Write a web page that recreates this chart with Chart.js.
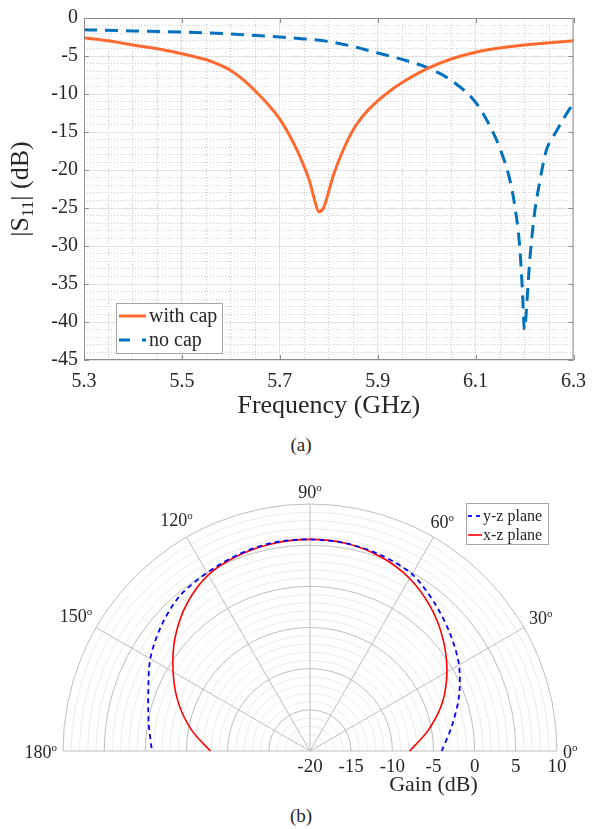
<!DOCTYPE html>
<html>
<head>
<meta charset="utf-8">
<script src="https://cdn.jsdelivr.net/npm/chart.js@4.4.0/dist/chart.umd.min.js"></script>
<style>
  html, body { margin: 0; padding: 0; background: #fff; }
  body { width: 596px; height: 829px; position: relative; overflow: hidden;
         font-family: 'Liberation Serif', 'Times New Roman', serif; color: #262626; }
  canvas { position: absolute; left: 0; }
  #s11Chart { top: 0; }
  #gainChart { top: 460px; }
  .caption { position: absolute; width: 60px; text-align: center; font-size: 19px; line-height: 20px; }
</style>
</head>
<body>
<canvas id="s11Chart" width="596" height="425"></canvas>
<div class="caption" style="left:271px; top:435px;">(a)</div>
<canvas id="gainChart" width="596" height="340"></canvas>
<div class="caption" style="left:271px; top:806px;">(b)</div>
<script>
// (a) reflection coefficient
const freqWithCap = [5.30, 5.35, 5.40, 5.45, 5.50, 5.55, 5.575, 5.60, 5.625, 5.65, 5.675, 5.70, 5.73, 5.75, 5.76, 5.77, 5.78, 5.79, 5.80, 5.81, 5.83, 5.85, 5.875, 5.90, 5.925, 5.95, 6.00, 6.05, 6.10, 6.15, 6.20, 6.25, 6.30];
const s11WithCap  = [-2.6, -3.0, -3.55, -4.05, -4.7, -5.5, -6.1, -6.9, -8.1, -9.6, -11.3, -13.3, -16.7, -19.6, -21.3, -23.7, -25.5, -24.9, -22.8, -20.6, -17.3, -14.7, -12.5, -10.9, -9.6, -8.5, -6.7, -5.4, -4.5, -3.95, -3.55, -3.25, -3.0];
const freqNoCap = [5.30, 5.40, 5.50, 5.60, 5.70, 5.75, 5.80, 5.85, 5.90, 5.95, 6.00, 6.05, 6.10, 6.13, 6.15, 6.17, 6.18, 6.19, 6.195, 6.20, 6.205, 6.21, 6.22, 6.23, 6.245, 6.255, 6.265, 6.28, 6.30];
const s11NoCap  = [-1.55, -1.7, -1.85, -2.1, -2.5, -2.75, -3.1, -3.75, -4.6, -5.45, -6.5, -8.2, -11.1, -14.3, -17.2, -21.3, -24.7, -30.0, -35.1, -41.0, -37.2, -32.4, -25.9, -21.9, -17.3, -16.0, -14.9, -13.2, -11.2];
const freqTicks = [5.3, 6.3];   // axis range (GHz)
const s11Range = [-45, 0];      // axis range (dB)

// (b) radiation pattern, gain in dB versus angle
const angleDeg = [0, 10, 20, 30, 40, 50, 60, 70, 80, 90, 100, 110, 120, 130, 140, 150, 160, 170, 180];
const gainYZ = [-4.0, -2.5, -0.75, 0.9, 2.2, 3.5, 4.8, 5.3, 5.6, 5.7, 5.7, 5.4, 5.0, 4.6, 3.6, 2.4, 0.9, -0.1, -0.8];
const gainXZ = [-7.9, -5.4, -2.9, -0.8, 1.1, 2.8, 4.2, 5.1, 5.6, 5.7, 5.6, 5.3, 4.7, 3.3, 1.4, -0.8, -3.0, -5.4, -7.9];
const gainRange = [-20, 10];
const angleLabels = [0, 30, 60, 90, 120, 150, 180];

const serif = "'Liberation Serif', 'Times New Roman', serif";
const textColor = '#262626';
Chart.defaults.font.family = serif;
Chart.defaults.color = textColor;

// legend drawn inside a box, like matlab
const boxLegend = {
    id: 'boxLegend',
    afterDraw(chart, args, o) {
        const ctx = chart.ctx;
        ctx.save();
        ctx.fillStyle = '#fff';
        ctx.fillRect(o.left, o.top, o.width, o.height);
        ctx.strokeStyle = '#a6a6a6';
        ctx.lineWidth = 1;
        ctx.strokeRect(o.left + 0.5, o.top + 0.5, o.width, o.height);
        chart.data.datasets.forEach((ds, i) => {
            const y = o.rows[i];
            ctx.strokeStyle = ds.borderColor;
            ctx.lineWidth = ds.borderWidth;
            ctx.setLineDash(o.dash[i] || []);
            ctx.beginPath();
            ctx.moveTo(o.sample[0], y);
            ctx.lineTo(o.sample[1], y);
            ctx.stroke();
            ctx.setLineDash([]);
            ctx.fillStyle = textColor;
            ctx.font = o.fontSize + 'px ' + serif;
            ctx.textBaseline = 'middle';
            ctx.textAlign = 'left';
            ctx.fillText(ds.label, o.textX, y + 1);
        });
        ctx.restore();
    }
};

// box around the plot with inward ticks
const frameBox = {
    id: 'frameBox',
    afterDatasetsDraw(chart) {
        const {ctx, chartArea: a, scales} = chart;
        ctx.save();
        ctx.strokeStyle = '#8c8c8c';
        ctx.lineWidth = 1;
        ctx.strokeRect(a.left + 0.5, a.top + 0.5, a.right - a.left - 1, a.bottom - a.top - 1);
        ctx.beginPath();
        scales.x.ticks.forEach(t => {
            const px = Math.round(scales.x.getPixelForValue(t.value)) + 0.5;
            ctx.moveTo(px, a.bottom); ctx.lineTo(px, a.bottom - 5);
            ctx.moveTo(px, a.top); ctx.lineTo(px, a.top + 5);
        });
        scales.y.ticks.forEach(t => {
            const py = Math.round(scales.y.getPixelForValue(t.value)) + 0.5;
            ctx.moveTo(a.left, py); ctx.lineTo(a.left + 5, py);
            ctx.moveTo(a.right, py); ctx.lineTo(a.right - 5, py);
        });
        ctx.stroke();
        ctx.restore();
    }
};

// |S11| (dB) with a real subscript
const yTitle = {
    id: 'yTitle',
    afterDraw(chart) {
        const {ctx, chartArea: a} = chart;
        const parts = [
            {t: '|S', size: 26, dy: 0},
            {t: '11', size: 17, dy: 5},
            {t: '| (dB)', size: 26, dy: 0}
        ];
        ctx.save();
        ctx.translate(28, (a.top + a.bottom) / 2);
        ctx.rotate(-Math.PI / 2);
        ctx.fillStyle = textColor;
        ctx.textBaseline = 'alphabetic';
        let total = 0;
        parts.forEach(p => { ctx.font = p.size + 'px ' + serif; p.w = ctx.measureText(p.t).width; total += p.w; });
        let x = -total / 2;
        parts.forEach(p => {
            ctx.font = p.size + 'px ' + serif;
            ctx.fillText(p.t, x, p.dy);
            x += p.w;
        });
        ctx.restore();
    }
};

new Chart(document.getElementById('s11Chart'), {
    type: 'line',
    data: {
        datasets: [{
            label: 'with cap',
            data: freqWithCap.map((f, i) => ({x: f, y: s11WithCap[i]})),
            borderColor: '#ff6a30',
            borderWidth: 3,
            pointRadius: 0,
            cubicInterpolationMode: 'monotone',
            fill: false
        }, {
            label: 'no cap',
            data: freqNoCap.map((f, i) => ({x: f, y: s11NoCap[i]})),
            borderColor: '#0072bd',
            borderWidth: 3,
            borderDash: [13, 8],
            pointRadius: 0,
            cubicInterpolationMode: 'monotone',
            fill: false
        }]
    },
    options: {
        responsive: false,
        animation: false,
        layout: { padding: { left: 0, right: 17, top: 16, bottom: 0 } },
        plugins: {
            legend: { display: false },
            tooltip: { enabled: false },
            boxLegend: {
                left: 116, top: 303, width: 106, height: 50,
                rows: [316, 340], sample: [119, 146], textX: 149,
                dash: [[], [11, 12]], fontSize: 20
            }
        },
        scales: {
            xMinor: {
                type: 'linear', position: 'bottom', min: freqTicks[0], max: freqTicks[1],
                ticks: { display: false, stepSize: 0.05 },
                grid: { color: '#cdcdcd', drawTicks: false },
                border: { display: false, dash: [1, 2] },
                afterFit(s) { s.height = 0; }
            },
            yMinor: {
                type: 'linear', position: 'left', min: s11Range[0], max: s11Range[1],
                ticks: { display: false, stepSize: 1 },
                grid: { color: '#cdcdcd', drawTicks: false },
                border: { display: false, dash: [1, 2] },
                afterFit(s) { s.width = 0; }
            },
            x: {
                type: 'linear', position: 'bottom', min: freqTicks[0], max: freqTicks[1],
                ticks: {
                    stepSize: 0.2, padding: 10, maxRotation: 0, autoSkip: false,
                    color: textColor, font: { family: serif, size: 20 },
                    callback: v => v.toFixed(1)
                },
                grid: { color: '#e2e2e2', drawTicks: false },
                border: { display: false },
                title: {
                    display: true, text: 'Frequency (GHz)', color: textColor,
                    font: { family: serif, size: 26 }, padding: { top: 0, bottom: 3 }
                },
                afterFit(s) { s.height = 65; }
            },
            y: {
                type: 'linear', position: 'left', min: s11Range[0], max: s11Range[1],
                ticks: {
                    stepSize: 5, padding: 6, color: textColor,
                    font: { family: serif, size: 20 },
                    callback: v => String(v)
                },
                grid: { color: '#e2e2e2', drawTicks: false },
                border: { display: false },
                afterFit(s) { s.width = 84; }
            }
        }
    },
    plugins: [frameBox, yTitle, boxLegend]
});

// ---- (b) polar pattern on a half plane ----
const span = gainRange[1] - gainRange[0];
const toXY = (g, a) => ({
    x: (g - gainRange[0]) * Math.cos(a * Math.PI / 180),
    y: (g - gainRange[0]) * Math.sin(a * Math.PI / 180)
});

const polarGrid = {
    id: 'polarGrid',
    beforeDatasetsDraw(chart) {
        const {ctx, scales: {x, y}} = chart;
        const cx = x.getPixelForValue(0), cy = y.getPixelForValue(0);
        const rad = r => x.getPixelForValue(r) - cx;
        ctx.save();
        ctx.lineWidth = 1;
        for (let r = 1; r <= span; r++) {
            ctx.strokeStyle = r % 5 === 0 ? '#bdbdbd' : '#ebebeb';
            ctx.beginPath();
            ctx.arc(cx, cy, rad(r), Math.PI, 2 * Math.PI);
            ctx.stroke();
        }
        ctx.strokeStyle = '#bdbdbd';
        ctx.beginPath();
        angleLabels.forEach(a => {
            const t = a * Math.PI / 180;
            ctx.moveTo(cx, cy);
            ctx.lineTo(cx + rad(span) * Math.cos(t), cy - rad(span) * Math.sin(t));
        });
        ctx.stroke();
        ctx.restore();
    },
    afterDraw(chart) {
        const {ctx, scales: {x, y}} = chart;
        const cx = x.getPixelForValue(0), cy = y.getPixelForValue(0);
        const R = x.getPixelForValue(span) - cx;
        ctx.save();
        ctx.fillStyle = textColor;
        ctx.textBaseline = 'alphabetic';
        ctx.textAlign = 'left';
        angleLabels.forEach(a => {
            const t = a * Math.PI / 180;
            const num = String(a);
            ctx.font = '18px ' + serif;
            const wn = ctx.measureText(num).width;
            ctx.font = '11px ' + serif;
            const wo = ctx.measureText('o').width;
            const w = wn + wo, h = 13;
            const d = R + 6 + Math.abs(Math.cos(t)) * w / 2 + Math.abs(Math.sin(t)) * h / 2;
            const mx = cx + d * Math.cos(t), my = cy - d * Math.sin(t);
            const left = mx - w / 2, base = my + h / 2;
            ctx.font = '18px ' + serif;
            ctx.fillText(num, left, base);
            ctx.font = '11px ' + serif;
            ctx.fillText('o', left + wn, base - 7);
        });
        // axis title under the gain ticks
        ctx.font = '22px ' + serif;
        ctx.textAlign = 'center';
        ctx.textBaseline = 'middle';
        ctx.fillText('Gain (dB)', x.getPixelForValue(span / 2), cy + 34);
        ctx.restore();
    }
};

new Chart(document.getElementById('gainChart'), {
    type: 'scatter',
    data: {
        datasets: [{
            label: 'y-z plane',
            data: angleDeg.map((a, i) => toXY(gainYZ[i], a)),
            showLine: true,
            borderColor: '#0000ff',
            borderWidth: 1.8,
            borderDash: [5, 4],
            pointRadius: 0,
            tension: 0.3,
            clip: false
        }, {
            label: 'x-z plane',
            data: angleDeg.map((a, i) => toXY(gainXZ[i], a)),
            showLine: true,
            borderColor: '#ff0000',
            borderWidth: 1.6,
            pointRadius: 0,
            tension: 0.3,
            clip: false
        }]
    },
    options: {
        responsive: false,
        animation: false,
        layout: { padding: { left: 63, right: 39, top: 44, bottom: 0 } },
        plugins: {
            legend: { display: false },
            tooltip: { enabled: false },
            boxLegend: {
                left: 466, top: 43, width: 82, height: 41,
                rows: [56, 75], sample: [468, 482], textX: 483,
                dash: [[4, 4], []], fontSize: 16
            }
        },
        scales: {
            x: {
                type: 'linear', min: -span, max: span,
                grid: { display: false, drawTicks: false },
                border: { display: false },
                ticks: {
                    stepSize: 5, autoSkip: false, maxRotation: 0, padding: 5,
                    color: textColor, font: { family: serif, size: 19 },
                    callback: v => (v >= 0 ? String(v + gainRange[0]) : '')
                },
                afterFit(s) { s.height = 49; }
            },
            y: { type: 'linear', min: 0, max: span, display: false }
        }
    },
    plugins: [polarGrid, boxLegend]
});
</script>
</body>
</html>
